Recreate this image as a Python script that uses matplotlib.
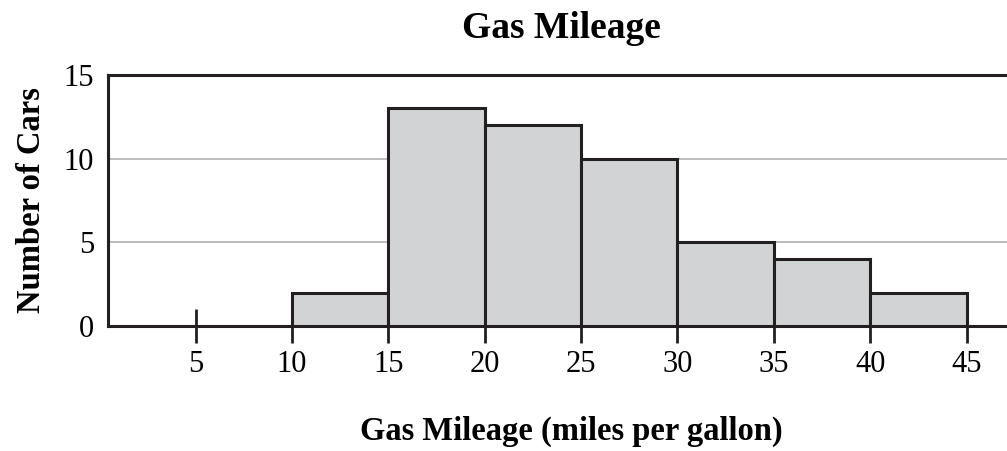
import matplotlib
matplotlib.use("Agg")
import matplotlib.pyplot as plt

bin_edges = [10, 15, 20, 25, 30, 35, 40, 45]
counts = [2, 13, 12, 10, 5, 4, 2]
x_ticks = [5, 10, 15, 20, 25, 30, 35, 40, 45]
y_ticks = [0, 5, 10, 15]

plt.rcParams['font.family'] = ['Liberation Serif', 'DejaVu Serif']

fig = plt.figure(figsize=(10.07, 4.51), dpi=100)
ax = fig.add_axes([108/1007, 1-326/451, 1-108/1007, (326-75)/451])

lefts = bin_edges[:-1]
widths = [b - a for a, b in zip(bin_edges[:-1], bin_edges[1:])]
ax.bar(lefts, counts, width=widths, align='edge', color='#d1d3d4',
       edgecolor='#231f20', linewidth=2.2, zorder=3)

ax.set_xlim(0.46, 47.1)
ax.set_ylim(0, 15)
ax.set_xticks(x_ticks)
ax.set_yticks(y_ticks)
ax.tick_params(axis='x', direction='inout', length=24, width=2.0, color='#231f20',
               labelsize=22, pad=5)
ax.tick_params(axis='y', length=0, labelsize=22, pad=10)
for s in ['left', 'top', 'bottom']:
    ax.spines[s].set_linewidth(2.2)
    ax.spines[s].set_color('#231f20')
ax.spines['right'].set_visible(False)
ax.yaxis.grid(True, color='#b0b0b0', linewidth=1.2, zorder=0)
ax.set_axisbelow(True)

ax.set_title('Gas Mileage', fontsize=27, fontweight='bold', pad=27, x=0.504)
ax.set_xlabel('Gas Mileage (miles per gallon)', fontsize=23.5, fontweight='bold', labelpad=27)
ax.xaxis.label.set_x(0.515)
ax.set_ylabel('Number of Cars', fontsize=23.5, fontweight='bold', labelpad=12)

fig.savefig('out.png', dpi=100)
